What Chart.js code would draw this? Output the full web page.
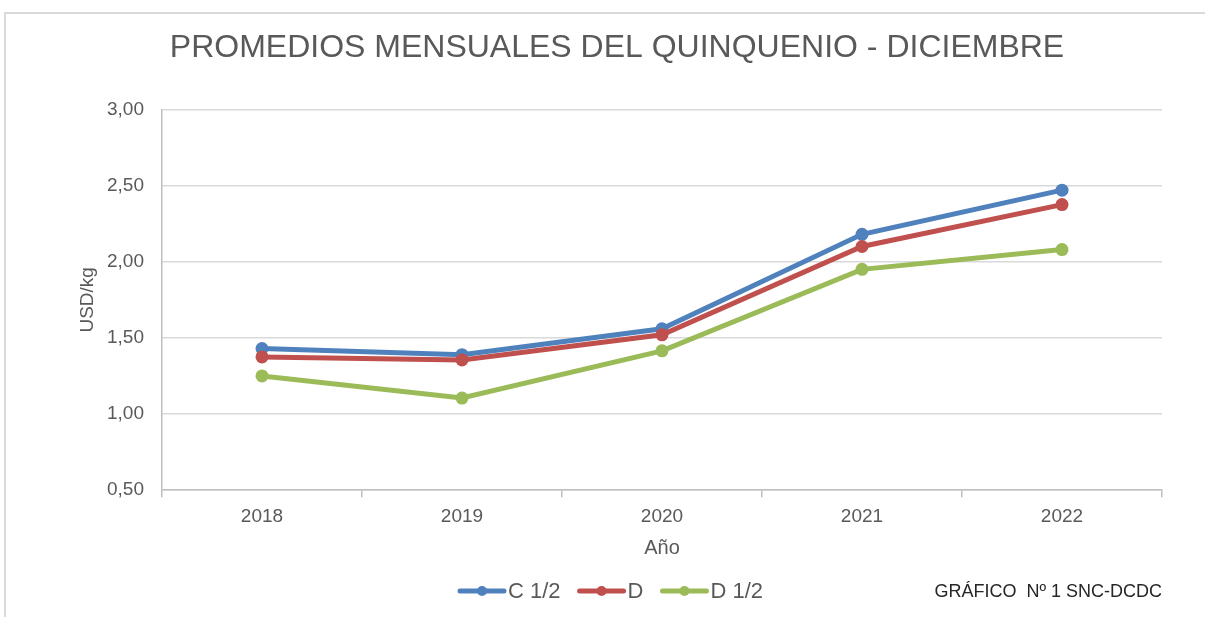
<!DOCTYPE html>
<html lang="es">
<head>
    <meta charset="UTF-8">
    <script src="https://cdn.jsdelivr.net/npm/chart.js"></script>
    <title>Promedios mensuales del quinquenio - Diciembre</title>
    <style>
        body { margin: 0; background: #fff; overflow: hidden; }
        .frame { position: absolute; left: 4px; top: 12px; width: 1300px; height: 700px; border: 2px solid #d9d9d9; }
        .wrap { position: absolute; left: 0; top: 0; width: 1205px; height: 617px; }
    </style>
</head>
<body>
    <div class="frame"></div>
    <div class="wrap">
        <canvas id="myChart" width="1205" height="617"></canvas>
    </div>

    <script>
        // data
        const years = ['2018', '2019', '2020', '2021', '2022'];
        const c12 = [1.43, 1.39, 1.56, 2.18, 2.47];
        const d = [1.375, 1.355, 1.52, 2.10, 2.375];
        const d12 = [1.25, 1.105, 1.415, 1.95, 2.08];
        const seriesNames = ['C 1/2', 'D', 'D 1/2'];
        const seriesColors = ['#4f81bd', '#c0504d', '#9bbb59'];

        const grey = '#595959';

        // legend drawn by hand (line + dot), plus the note at the right
        const bottomLegend = {
            id: 'bottomLegend',
            afterDraw(chart) {
                const ctx = chart.ctx;
                const y = 591;
                let x = 458;
                ctx.save();
                ctx.font = '22px "Liberation Sans", Arial, sans-serif';
                ctx.textBaseline = 'middle';
                chart.data.datasets.forEach((ds) => {
                    ctx.strokeStyle = ds.borderColor;
                    ctx.lineWidth = 5;
                    ctx.lineCap = 'round';
                    ctx.beginPath();
                    ctx.moveTo(x + 2, y);
                    ctx.lineTo(x + 46, y);
                    ctx.stroke();
                    ctx.fillStyle = ds.borderColor;
                    ctx.beginPath();
                    ctx.arc(x + 24, y, 5, 0, Math.PI * 2);
                    ctx.fill();
                    ctx.fillStyle = grey;
                    ctx.textAlign = 'left';
                    ctx.fillText(ds.label, x + 50, y + 1);
                    x += 50 + ctx.measureText(ds.label).width + 17;
                });
                ctx.font = '18px "Liberation Sans", Arial, sans-serif';
                ctx.fillStyle = '#262626';
                ctx.textAlign = 'right';
                ctx.fillText('GRÁFICO  Nº 1 SNC-DCDC', chart.chartArea.right, y + 1);
                ctx.restore();
            }
        };

        const ctx = document.getElementById('myChart').getContext('2d');
        const myChart = new Chart(ctx, {
            type: 'line',
            data: {
                labels: years,
                datasets: [{
                    label: seriesNames[0],
                    data: c12,
                    borderColor: seriesColors[0],
                    backgroundColor: seriesColors[0],
                    order: 3
                },
                {
                    label: seriesNames[1],
                    data: d,
                    borderColor: seriesColors[1],
                    backgroundColor: seriesColors[1],
                    order: 2
                },
                {
                    label: seriesNames[2],
                    data: d12,
                    borderColor: seriesColors[2],
                    backgroundColor: seriesColors[2],
                    order: 1
                }
                ]
            },
            plugins: [bottomLegend],
            options: {
                responsive: false,
                animation: false,
                layout: {
                    padding: { left: 72, right: 43, top: 0, bottom: 53 }
                },
                elements: {
                    line: { borderWidth: 5, tension: 0 },
                    point: { radius: 6.5, borderWidth: 0, hoverRadius: 6.5 }
                },
                plugins: {
                    legend: { display: false },
                    tooltip: { enabled: false },
                    title: {
                        display: true,
                        text: 'PROMEDIOS MENSUALES DEL QUINQUENIO - DICIEMBRE',
                        color: grey,
                        font: { family: '"Liberation Sans", Arial, sans-serif', size: 32, weight: 'normal' },
                        padding: { top: 29, bottom: 42 }
                    }
                },
                scales: {
                    x: {
                        offset: true,
                        grid: {
                            offset: true,
                            drawOnChartArea: false,
                            drawTicks: true,
                            tickLength: 7,
                            color: '#bfbfbf',
                            lineWidth: 1.5
                        },
                        border: { color: '#bfbfbf', width: 1.5 },
                        ticks: {
                            color: grey,
                            padding: 8,
                            font: { family: '"Liberation Sans", Arial, sans-serif', size: 19 }
                        },
                        title: {
                            display: true,
                            text: 'Año',
                            color: grey,
                            padding: { top: 0, bottom: 4 },
                            font: { family: '"Liberation Sans", Arial, sans-serif', size: 20 }
                        }
                    },
                    y: {
                        min: 0.5,
                        max: 3,
                        afterFit: (scale) => { scale.width = 90; },
                        grid: {
                            color: '#d9d9d9',
                            lineWidth: 1.5,
                            drawTicks: false
                        },
                        border: { color: '#bfbfbf', width: 1.5 },
                        ticks: {
                            stepSize: 0.5,
                            color: grey,
                            padding: 18,
                            font: { family: '"Liberation Sans", Arial, sans-serif', size: 19 },
                            callback: (v) => v.toFixed(2).replace('.', ',')
                        },
                        title: {
                            display: true,
                            text: 'USD/kg',
                            color: grey,
                            font: { family: '"Liberation Sans", Arial, sans-serif', size: 19 }
                        }
                    }
                }
            }
        });
    </script>
</body>
</html>
